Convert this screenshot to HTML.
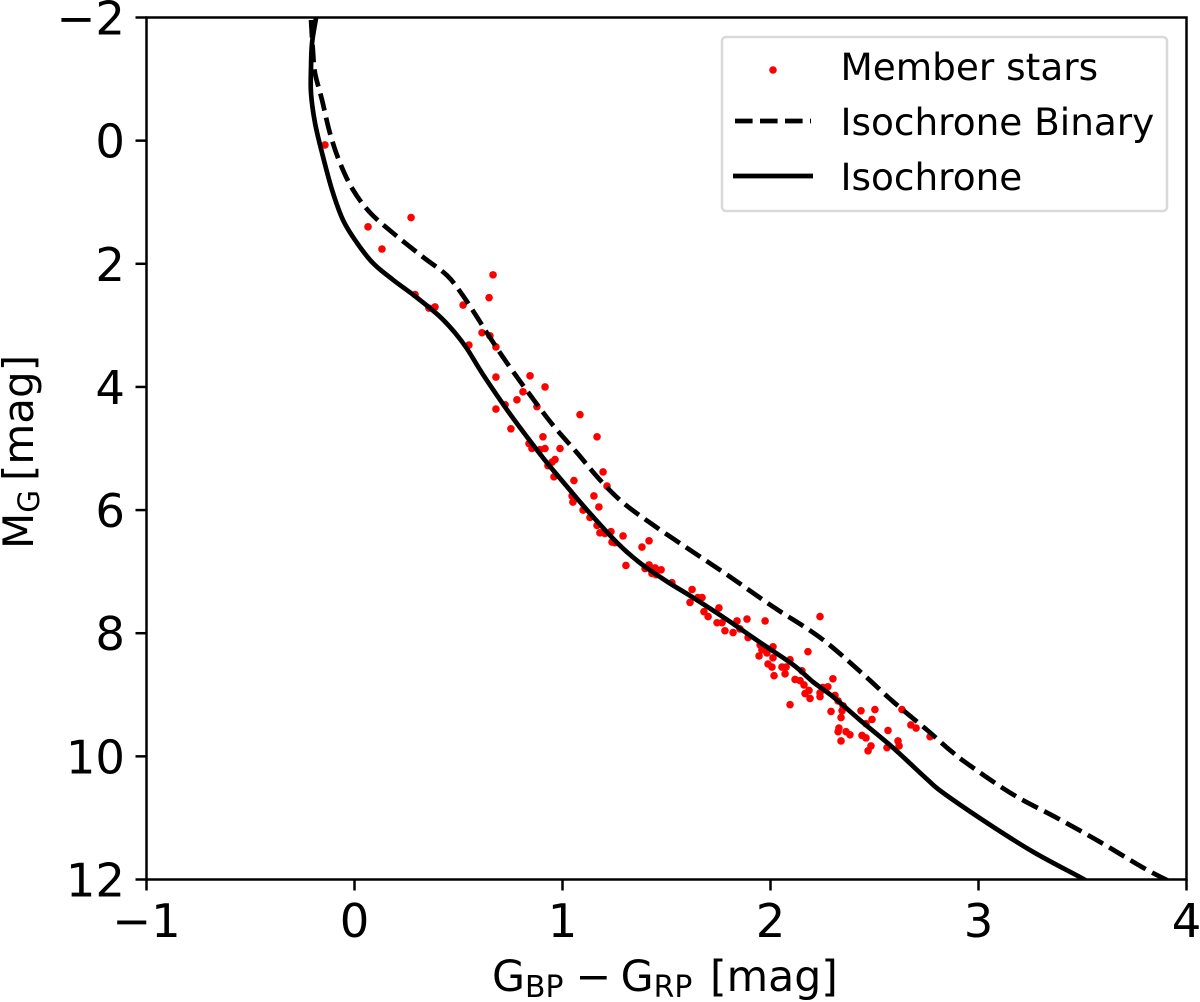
<!DOCTYPE html>
<html lang="en">
<head>
<meta charset="utf-8">
<title>Colour-magnitude diagram</title>
<style>
html,body{margin:0;padding:0;background:#fff;}
svg{display:block;font-family:"DejaVu Sans","Liberation Sans",sans-serif;fill:#000;}
</style>
</head>
<body>
<svg id="chart" xmlns="http://www.w3.org/2000/svg" width="1200" height="1002" viewBox="0 0 1200 1002">
  <defs><clipPath id="plot-clip"><rect x="146.5" y="17.5" width="1040" height="862"/></clipPath></defs>
  <g id="stars" clip-path="url(#plot-clip)"></g>
  <g id="lines" clip-path="url(#plot-clip)"></g>
  <g id="ticks"></g>
  <rect x="146.5" y="17.5" width="1040" height="862" fill="none" stroke="#000" stroke-width="2.5"/>
  <text y="991" x="492" font-size="42.6">G<tspan font-size="29.8" dy="6">BP</tspan><tspan dy="-6" x="575.5">−</tspan><tspan x="620.6">G</tspan><tspan font-size="29.8" dy="6">RP</tspan><tspan dy="-6" x="710">[mag]</tspan></text>
  <text transform="translate(33 549) rotate(-90)" font-size="42">M<tspan font-size="29.4" dy="6">G</tspan><tspan dy="-6" x="68">[mag]</tspan></text>
  <g>
    <rect x="722" y="37" width="445" height="174" rx="4" ry="4" fill="#fff" fill-opacity="0.85" stroke="#d9d9d9" stroke-width="2.5"/>
    <circle cx="773" cy="70" r="3.8" fill="#ff0000"/>
    <text x="840.5" y="80" font-size="37.4">Member stars</text>
    <line x1="735" y1="121" x2="811" y2="121" stroke="#000" stroke-width="4.7" stroke-dasharray="17.6 7.4"/>
    <text x="840.5" y="135" font-size="37.4">Isochrone Binary</text>
    <line x1="733" y1="176" x2="813" y2="176" stroke="#000" stroke-width="4.7"/>
    <text x="840.5" y="190" font-size="37.4">Isochrone</text>
  </g>
</svg>
<script>
const xTicks = [-1, 0, 1, 2, 3, 4];
const xTickLabels = ['−1', '0', '1', '2', '3', '4'];
const yTicks = [-2, 0, 2, 4, 6, 8, 10, 12];
const yTickLabels = ['−2', '0', '2', '4', '6', '8', '10', '12'];

const starColor = [-0.142,0.065,0.272,0.132,0.291,0.358,0.387,0.522,0.647,0.666,0.613,0.651,0.550,0.680,0.680,0.844,0.916,0.810,0.781,0.724,0.680,0.877,1.084,0.752,1.166,0.906,0.839,0.853,0.892,0.916,0.988,0.964,0.950,0.930,1.195,0.959,1.055,1.214,1.046,1.151,1.050,1.175,1.099,1.132,1.166,1.180,1.204,1.233,1.291,1.238,1.252,1.416,1.382,1.305,1.397,1.416,1.445,1.474,1.430,1.450,1.526,1.623,1.613,1.651,1.671,1.752,1.680,1.700,1.743,1.767,1.781,1.820,1.839,1.887,1.974,1.853,1.892,1.950,2.012,1.959,1.983,1.945,2.012,2.094,2.180,2.238,1.988,2.007,2.017,2.055,2.075,2.070,2.151,2.118,2.142,2.161,2.185,2.166,2.190,2.300,2.276,2.252,2.238,2.238,2.310,2.325,2.094,2.349,2.344,2.291,2.339,2.435,2.502,2.488,2.459,2.329,2.325,2.363,2.382,2.339,2.440,2.459,2.565,2.613,2.618,2.483,2.469,2.560,2.632,2.675,2.700,2.767];
const starMag = [0.07,1.40,1.25,1.76,2.50,2.72,2.70,2.67,2.55,2.18,3.12,3.17,3.32,3.35,3.84,3.82,4.00,4.08,4.21,4.29,4.36,4.32,4.45,4.68,4.81,4.81,4.92,5.00,5.02,5.00,5.00,5.18,5.22,5.28,5.38,5.46,5.52,5.61,5.77,5.77,5.87,5.95,6.00,6.12,6.25,6.37,6.38,6.35,6.42,6.52,6.53,6.50,6.60,6.90,6.95,6.89,6.94,6.97,7.03,7.05,7.18,7.29,7.50,7.42,7.42,7.59,7.65,7.73,7.83,7.83,7.96,7.99,7.80,7.77,7.80,7.93,8.07,8.19,8.22,8.27,8.32,8.37,8.40,8.43,8.30,7.73,8.50,8.55,8.69,8.55,8.55,8.66,8.61,8.75,8.77,8.84,8.93,8.98,9.06,8.74,8.87,8.88,8.97,9.03,9.01,9.10,9.16,9.18,9.26,9.27,9.37,9.26,9.24,9.40,9.47,9.54,9.60,9.60,9.65,9.75,9.66,9.70,9.58,9.75,9.83,9.83,9.91,9.86,9.24,9.49,9.54,9.68];

const isoColor = [-0.185,-0.204,-0.209,-0.209,-0.190,-0.156,-0.108,-0.055,0.012,0.089,0.185,0.300,0.411,0.483,0.541,0.618,0.733,0.829,0.925,1.022,1.118,1.262,1.373,1.502,1.627,1.791,1.950,2.108,2.204,2.300,2.430,2.589,2.752,2.829,3.041,3.262,3.498,3.52];
const isoMag = [-1.99,-1.59,-1.20,-0.77,-0.29,0.20,0.80,1.29,1.66,1.99,2.26,2.55,2.86,3.12,3.38,3.80,4.37,4.81,5.23,5.62,6.00,6.53,6.86,7.16,7.42,7.78,8.15,8.51,8.79,9.03,9.41,9.86,10.37,10.59,11.08,11.55,11.98,12.03];

const binColor = [-0.209,-0.200,-0.190,-0.156,-0.118,-0.070,-0.007,0.075,0.185,0.329,0.445,0.522,0.603,0.642,0.733,0.844,0.954,1.070,1.180,1.291,1.435,1.627,1.791,2.012,2.238,2.430,2.589,2.752,2.863,2.959,3.166,3.377,3.584,3.782,3.911];
const binMag = [-1.96,-1.47,-1.10,-0.66,-0.12,0.36,0.80,1.17,1.50,1.89,2.19,2.52,2.94,3.15,3.61,4.13,4.62,5.07,5.51,5.88,6.24,6.68,7.05,7.57,8.07,8.62,9.11,9.57,9.90,10.15,10.62,11.00,11.39,11.79,12.02];

const NS = 'http://www.w3.org/2000/svg';
const xDomain = [-1, 4];
const yDomain = [-2, 12];
const xRange = [146.5, 1186.5];
const yRange = [17.5, 879.5];
function sx(v) { return xRange[0] + (v - xDomain[0]) / (xDomain[1] - xDomain[0]) * (xRange[1] - xRange[0]); }
function sy(v) { return yRange[0] + (v - yDomain[0]) / (yDomain[1] - yDomain[0]) * (yRange[1] - yRange[0]); }

function smoothPath(xs, ys) {
  const p = xs.map((x, i) => [sx(x), sy(ys[i])]);
  let d = 'M' + p[0][0].toFixed(2) + ' ' + p[0][1].toFixed(2);
  for (let i = 0; i < p.length - 1; i++) {
    const a = p[Math.max(i - 1, 0)], b = p[i], c = p[i + 1], e = p[Math.min(i + 2, p.length - 1)];
    const c1x = b[0] + (c[0] - a[0]) / 6, c1y = b[1] + (c[1] - a[1]) / 6;
    const c2x = c[0] - (e[0] - b[0]) / 6, c2y = c[1] - (e[1] - b[1]) / 6;
    d += 'C' + c1x.toFixed(2) + ' ' + c1y.toFixed(2) + ' ' + c2x.toFixed(2) + ' ' + c2y.toFixed(2) + ' ' + c[0].toFixed(2) + ' ' + c[1].toFixed(2);
  }
  return d;
}

const starsGroup = document.getElementById('stars');
starColor.forEach((c, i) => {
  const dot = document.createElementNS(NS, 'circle');
  
  
  dot.setAttribute('cx', sx(c));
  dot.setAttribute('cy', sy(starMag[i]));
  dot.setAttribute('r', 3.8);
  dot.setAttribute('fill', '#ff0000');
  starsGroup.appendChild(dot);
});

const linesGroup = document.getElementById('lines');
const binLine = document.createElementNS(NS, 'path');


binLine.setAttribute('d', smoothPath(binColor, binMag));
binLine.setAttribute('fill', 'none');
binLine.setAttribute('stroke', '#000');
binLine.setAttribute('stroke-width', '4.7');
binLine.setAttribute('stroke-dasharray', '17.6 7.2');
linesGroup.appendChild(binLine);

const isoLine = document.createElementNS(NS, 'path');


isoLine.setAttribute('d', smoothPath(isoColor, isoMag));
isoLine.setAttribute('fill', 'none');
isoLine.setAttribute('stroke', '#000');
isoLine.setAttribute('stroke-width', '4.7');
linesGroup.appendChild(isoLine);

const ticksGroup = document.getElementById('ticks');
xTicks.forEach((t, i) => {
  const mark = document.createElementNS(NS, 'line');
  
  
  mark.setAttribute('x1', sx(t));
  mark.setAttribute('x2', sx(t));
  mark.setAttribute('y1', yRange[1]);
  mark.setAttribute('y2', yRange[1] + 11);
  mark.setAttribute('stroke', '#000');
  mark.setAttribute('stroke-width', '2.5');
  ticksGroup.appendChild(mark);
  const label = document.createElementNS(NS, 'text');
  
  
  label.setAttribute('x', sx(t));
  label.setAttribute('y', 937);
  label.setAttribute('font-size', '46.5');
  label.setAttribute('text-anchor', 'middle');
  label.textContent = xTickLabels[i];
  ticksGroup.appendChild(label);
});
yTicks.forEach((t, i) => {
  const mark = document.createElementNS(NS, 'line');
  
  
  mark.setAttribute('x1', xRange[0] - 11);
  mark.setAttribute('x2', xRange[0]);
  mark.setAttribute('y1', sy(t));
  mark.setAttribute('y2', sy(t));
  mark.setAttribute('stroke', '#000');
  mark.setAttribute('stroke-width', '2.5');
  ticksGroup.appendChild(mark);
  const label = document.createElementNS(NS, 'text');
  
  
  label.setAttribute('x', 125);
  label.setAttribute('y', sy(t) + 17);
  label.setAttribute('font-size', '46.5');
  label.setAttribute('text-anchor', 'end');
  label.textContent = yTickLabels[i];
  ticksGroup.appendChild(label);
});
</script>
</body>
</html>
